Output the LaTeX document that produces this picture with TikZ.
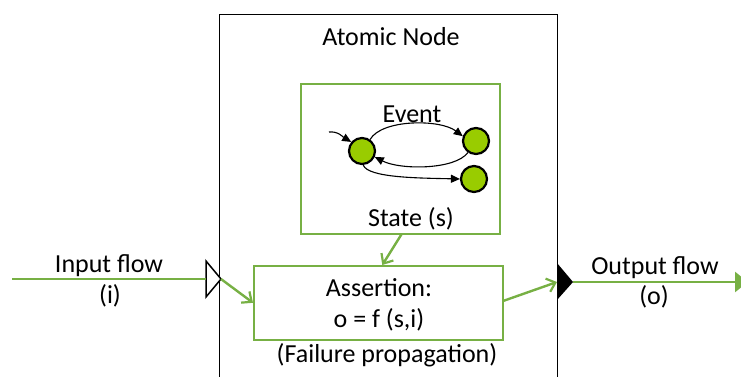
\documentclass[tikz,border=0pt]{standalone}
\usepackage{fontspec}
\setmainfont{Carlito}
\usetikzlibrary{arrows.meta}
\definecolor{flowgreen}{RGB}{119,176,68}
\definecolor{statefill}{RGB}{153,204,0}

\begin{document}
\begin{tikzpicture}[x=1pt,y=-1pt,
  font=\fontsize{26}{30}\selectfont,
  lbl/.style={inner sep=0pt,anchor=base},
  greenbox/.style={draw=flowgreen,line width=1.6pt,inner sep=0pt},
  greenline/.style={draw=flowgreen,line width=2.4pt},
  greenarrow/.style={greenline,-{Straight Barb[length=8pt,width=14pt,line width=2.2pt]}},
  statecirc/.style={circle,draw=black,line width=2.2pt,fill=statefill,minimum size=26pt,inner sep=0pt},
  trans/.style={draw=black,line width=1.1pt,-{Triangle[length=9pt,width=8pt]}}]

\useasboundingbox (0,0) rectangle (741,376);

% atomic node container (runs past the lower edge)
\node[draw=black,line width=1.4pt,anchor=north west,minimum width=338pt,minimum height=400pt,inner sep=0pt] (atomic) at (219,14) {};
\node[lbl] (atomiclbl) at (391,45) {Atomic Node};

% state machine box
\node[greenbox,anchor=north west,minimum width=199pt,minimum height=150pt] (statebox) at (300,83) {};
\node[lbl] (eventlbl) at (412,122) {Event};
\node[lbl] (statelbl) at (411,226) {State (s)};

\node[statecirc] (s0) at (362,151) {};
\node[statecirc] (s1) at (476,141) {};
\node[statecirc] (s2) at (474,179) {};
\coordinate (init) at (329,132);

\draw[trans] (init) .. controls (338,131) and (343,137) .. (s0.140);
\draw[trans] (s0.55) .. controls (382,119) and (440,119) .. (s1.160);
\draw[trans] (s1.235) .. controls (455,170) and (400,170) .. (s0.-25);
\draw[trans] (s0.-85) .. controls (368,178) and (420,178) .. (s2.west);

% assertion box
\node[greenbox,anchor=north west,minimum width=249pt,minimum height=74pt] (assert) at (253,265) {};
\node[lbl] (assertlbl) at (379,296) {Assertion:};
\node[lbl] (funclbl) at (379,327) {o = f (s,i)};
\node[lbl] (faillbl) at (387,362) {(Failure propagation)};

% ports
\coordinate (inbase) at (206,279);
\coordinate (intip) at (221,279);
\draw[black,line width=1.5pt,fill=white,line join=miter] (206,261) -- (intip) -- (206,297) -- cycle;
\coordinate (outbase) at (557,282);
\coordinate (outtip) at (573,282);
\fill[black] (557,263) -- (outtip) -- (557,300) -- cycle;

% flows
\coordinate (instart) at (12,279);
\coordinate (outend) at (748,282);
\draw[greenline] (instart) -- (inbase);
\node[lbl] (inlbl) at (109,272) {Input flow};
\node[lbl] (ilbl) at (110,303) {(i)};
\draw[greenline,-{Triangle[length=13pt,width=20pt]}] (outtip) -- (outend);
\node[lbl] (outlbl) at (655,274) {Output flow};
\node[lbl] (olbl) at (654,304) {(o)};

\draw[greenarrow] (intip) -- (assert.west);
\draw[greenarrow] ([yshift=2pt]assert.east) -- (outbase);
\draw[greenarrow] ([xshift=1pt]statebox.south) -- ([xshift=4pt]assert.north);
\end{tikzpicture}
\end{document}
